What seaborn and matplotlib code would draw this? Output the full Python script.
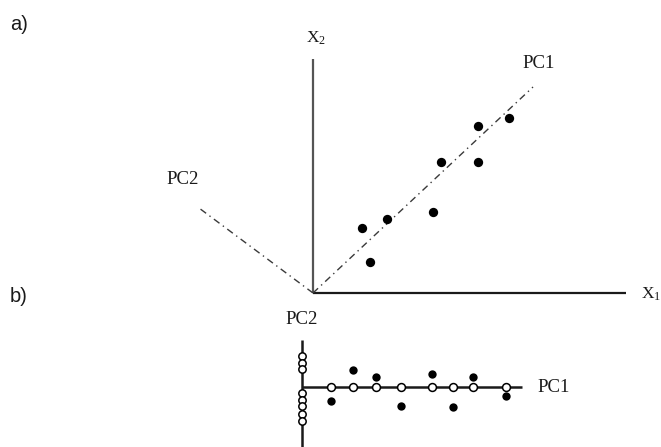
import matplotlib
matplotlib.use('Agg')

import seaborn as sns
import matplotlib.pyplot as plt
import pandas as pd

# --- a) raw data in the X1/X2 plane (offsets from the origin) ---
x1_vals = [49, 74, 57, 120, 128, 165, 165, 196]
x2_vals = [65, 74, 31, 81, 131, 131, 167, 175]

# PC directions drawn in panel a
pc1_dir = [220, 206]
pc2_dir = [-114, 85]

# --- b) scores in the PC1/PC2 plane ---
pc1_scores = [29, 51, 74, 99, 130, 151, 171, 204]
pc2_scores = [-14, 17, 10, -19, 13, -20, 10, -9]
pc2_axis_marks = [31, 24.5, 18, -6, -12.5, -19, -27, -33.5]

sns.set_theme(style='white')
plt.rcParams['font.family'] = ['Liberation Serif', 'DejaVu Serif']
plt.rcParams['mathtext.fontset'] = 'custom'
plt.rcParams['mathtext.rm'] = 'Liberation Serif'

fig = plt.figure(figsize=(6.61, 4.47), dpi=100)
fig.patch.set_facecolor('white')

ink = '#1a1a1a'

# ---------- panel a ----------
ax_a = fig.add_axes([0, 0, 1, 1])
ax_a.patch.set_alpha(0)

ax_a.plot([0, 0], [0, 234], color='#555555', lw=1.6, solid_capstyle='butt')
ax_a.plot([0, 313], [0, 0], color=ink, lw=1.6, solid_capstyle='butt')
ax_a.plot([0, pc1_dir[0]], [0, pc1_dir[1]], color='#3a3a3a', lw=1.0,
          linestyle=(0, (5, 3, 1, 3)))
ax_a.plot([0, pc2_dir[0]], [0, pc2_dir[1]], color='#3a3a3a', lw=1.0,
          linestyle=(0, (5, 3, 1, 3)))

df_a = pd.DataFrame({'X1': x1_vals, 'X2': x2_vals})
sns.scatterplot(data=df_a, x='X1', y='X2', ax=ax_a, color='black',
                s=45, edgecolor='black', linewidth=0, zorder=5)
ax_a.set_xlim(-313, 348)
ax_a.set_ylim(-154, 293)
ax_a.axis('off')

ax_a.text(3, 255, r'$\mathregular{X_2}$', ha='center', va='center',
          fontsize=12.5, color=ink)
ax_a.text(328, -1, r'$\mathregular{X_1}$', ha='left', va='center',
          fontsize=12.5, color=ink)
ax_a.text(226, 229, 'PC1', ha='center', va='center', fontsize=13.5, color=ink)
ax_a.text(-130, 113, 'PC2', ha='center', va='center', fontsize=13.5, color=ink)

# ---------- panel b ----------
ax_b = fig.add_axes([0, 0, 1, 1])
ax_b.patch.set_alpha(0)

ax_b.plot([0, 0], [-70, 47], color=ink, lw=1.8, solid_capstyle='butt')
ax_b.plot([0, 220], [0, 0], color=ink, lw=1.8, solid_capstyle='butt')

df_b = pd.DataFrame({'PC1': pc1_scores, 'PC2': pc2_scores})
sns.scatterplot(data=df_b, x='PC1', y='PC2', ax=ax_b, color='black',
                s=36, edgecolor='black', linewidth=0, zorder=5)
sns.scatterplot(x=pc1_scores, y=[0] * len(pc1_scores), ax=ax_b,
                color='white', s=32, edgecolor='black', linewidth=1.1, zorder=6)
sns.scatterplot(x=[0] * len(pc2_axis_marks), y=pc2_axis_marks, ax=ax_b,
                color='white', s=28, edgecolor='black', linewidth=1.1, zorder=6)
ax_b.set_xlim(-301.7, 359.3)
ax_b.set_ylim(-59.7, 387.3)
ax_b.axis('off')

ax_b.text(0, 68, 'PC2', ha='center', va='center', fontsize=13.5, color=ink)
ax_b.text(236, 0, 'PC1', ha='left', va='center', fontsize=13.5, color=ink)

# panel letters
fig.text(10 / 661, 1 - 24 / 447, 'a)', ha='left', va='center',
         fontsize=14.5, color=ink, family=['Liberation Sans', 'DejaVu Sans'])
fig.text(10 / 661, 1 - 297 / 447, 'b)', ha='left', va='center',
         fontsize=14.5, color=ink, family=['Liberation Sans', 'DejaVu Sans'])

fig.savefig('out.png', dpi=100, facecolor='white')
plt.close(fig)
